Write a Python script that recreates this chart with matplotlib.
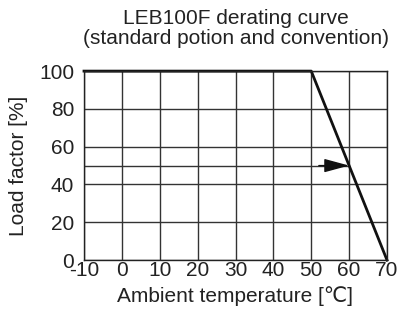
import matplotlib
matplotlib.use("Agg")
import matplotlib.pyplot as plt

plt.rcParams['font.family'] = ['Liberation Sans', 'DejaVu Sans']
plt.rcParams['axes.unicode_minus'] = False

temps = [-10, 50, 70]
load = [100, 100, 0]
xticks = [-10, 0, 10, 20, 30, 40, 50, 60, 70]
yticks = [0, 20, 40, 60, 80, 100]
marker_temp = 60
marker_load = 50

fig = plt.figure(figsize=(4.0, 3.16), dpi=100)
ax = fig.add_axes([0.21, 0.177, 0.7575, 0.598])
ax.set_xlim(-10, 70)
ax.set_ylim(0, 100)
ax.set_xticks(xticks)
ax.set_yticks(yticks)
ax.set_xticklabels([str(v) for v in xticks])
ax.tick_params(length=0, labelsize=15, colors='#222222')
ax.tick_params(axis='x', pad=1)
ax.tick_params(axis='y', pad=7)
ax.grid(True, color='#333333', linewidth=1.0)
for s in ax.spines.values():
    s.set_color('#222222')
    s.set_linewidth(1.0)
ax.set_axisbelow(True)

ax.plot([-10, marker_temp], [marker_load, marker_load], color='#333333', lw=1.0)
ax.annotate('', xy=(marker_temp, marker_load), xytext=(marker_temp - 8, marker_load),
            arrowprops=dict(arrowstyle='-|>,head_length=1.55,head_width=0.42',
                            color='#111111', lw=1.0, shrinkA=0, shrinkB=0))
ax.plot(temps, load, color='#111111', lw=2.0, clip_on=False)

ax.set_xlabel('Ambient temperature [\u2103]', fontsize=15, labelpad=4, color='#222222')
ax.set_ylabel('Load factor [%]', fontsize=15, labelpad=8, color='#222222')
fig.text(0.59, 0.942, 'LEB100F derating curve', ha='center', va='center', fontsize=15, color='#222222')
fig.text(0.59, 0.877, '(standard potion and convention)', ha='center', va='center', fontsize=15, color='#222222')

fig.savefig('out.png', dpi=100)
